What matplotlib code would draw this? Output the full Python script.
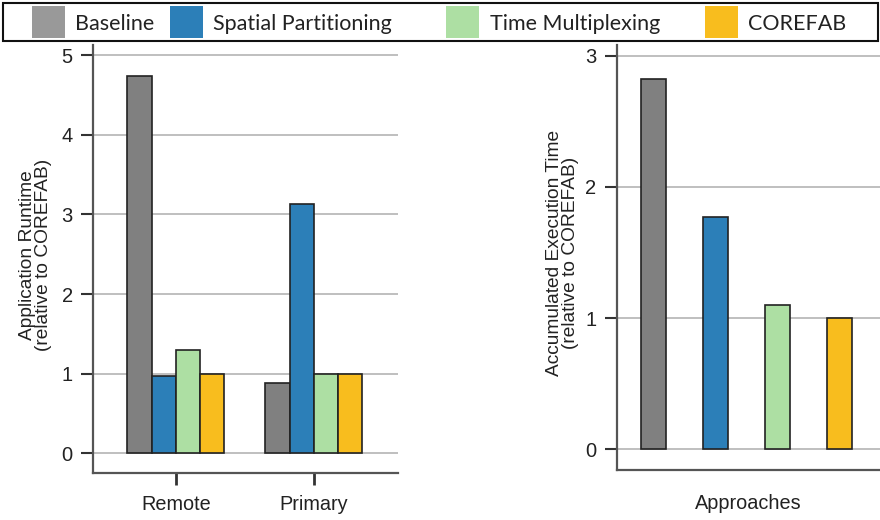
import numpy as np
import matplotlib.pyplot as plt
from matplotlib.patches import Rectangle

plt.rcParams['font.family'] = ['Liberation Sans', 'DejaVu Sans']

# approaches (legend order) and their colours
approaches = ['Baseline', 'Spatial Partitioning', 'Time Multiplexing', 'COREFAB']
bar_colors = ['#808080', '#2c7fb8', '#addfa3', '#f8bd1e']
legend_colors = ['#999999', '#2c7fb8', '#addfa3', '#f8bd1e']

# left panel: application runtime per scenario, relative to COREFAB
scenarios = ['Remote', 'Primary']
baseline_rt = [4.74, 0.88]
spatial_rt = [0.97, 3.13]
timemux_rt = [1.30, 1.00]
corefab_rt = [1.00, 1.00]

# right panel: accumulated execution time, relative to COREFAB
accumulated = [2.82, 1.77, 1.10, 1.00]

W, H = 880, 520
fig = plt.figure(figsize=(W / 100, H / 100), dpi=100)


def px_box(x0, y0, x1, y1):
    # pixel box (top-left origin) -> figure fraction [left, bottom, w, h]
    return [x0 / W, 1 - y1 / H, (x1 - x0) / W, (y1 - y0) / H]


def style_axes(ax):
    for s in ['top', 'right']:
        ax.spines[s].set_visible(False)
    for s in ['left', 'bottom']:
        ax.spines[s].set_color('#555555')
        ax.spines[s].set_linewidth(1.6)
    ax.yaxis.grid(True, color='#b4b4b4', linewidth=1.2)
    ax.set_axisbelow(True)
    ax.tick_params(axis='y', length=8.5, width=1.5, color='#333333',
                   pad=6, labelsize=14.5, labelcolor='#222222')


# ---- left panel ----
ax1 = fig.add_axes(px_box(93, 45, 398, 473))
style_axes(ax1)
x = np.arange(len(scenarios))
w = 0.176
series = [baseline_rt, spatial_rt, timemux_rt, corefab_rt]
for i, vals in enumerate(series):
    ax1.bar(x + (i - 1.5) * w, vals, width=w, color=bar_colors[i],
            edgecolor='#222222', linewidth=1.2, zorder=3)
ax1.set_xlim(-0.60, 1.61)
ax1.set_ylim(-0.25, 5.13)
ax1.set_yticks(range(0, 6))
ax1.set_xticks(x)
ax1.set_xticklabels(scenarios)
ax1.tick_params(axis='x', length=8.5, width=2, color='#333333',
                pad=7.5, labelsize=14.3, labelcolor='#222222')
ax1.set_ylabel('Application Runtime\n(relative to COREFAB)', fontsize=13.8,
               color='#222222', linespacing=0.95)
ax1.yaxis.set_label_coords(-0.134, 0.51)

# ---- right panel ----
ax2 = fig.add_axes(px_box(616.7, 45, 880, 470))
style_axes(ax2)
xa = np.arange(len(approaches))
ax2.bar(xa, accumulated, width=0.4, color=bar_colors,
        edgecolor='#222222', linewidth=1.2, zorder=3)
ax2.set_xlim(-0.59, 3.66)
ax2.set_ylim(-0.158, 3.08)
ax2.set_yticks(range(0, 4))
ax2.set_xticks([])
ax2.set_xlabel('Approaches', fontsize=14.3, color='#222222', labelpad=17)
ax2.set_ylabel('Accumulated Execution Time\n(relative to COREFAB)', fontsize=13.8,
               color='#222222', linespacing=0.95)
ax2.yaxis.set_label_coords(-0.143, 0.51)

# ---- legend box across the top ----
fig.add_artist(Rectangle((3 / W, 1 - 40.5 / H), 875 / W, 38 / H,
                         transform=fig.transFigure, facecolor='white',
                         edgecolor='#111111', linewidth=1.5))
patch_x = [32, 170, 446, 705]
text_x = [75, 213, 490, 748]
for i, name in enumerate(approaches):
    fig.add_artist(Rectangle((patch_x[i] / W, 1 - 38 / H), 33 / W, 32 / H,
                             transform=fig.transFigure,
                             facecolor=legend_colors[i], edgecolor='none'))
    fig.text(text_x[i] / W, 1 - 30 / H, name, fontsize=15.5, va='baseline',
             ha='left', color='#222222', family=['Lato', 'DejaVu Sans'])

fig.savefig('out.png', dpi=100)
